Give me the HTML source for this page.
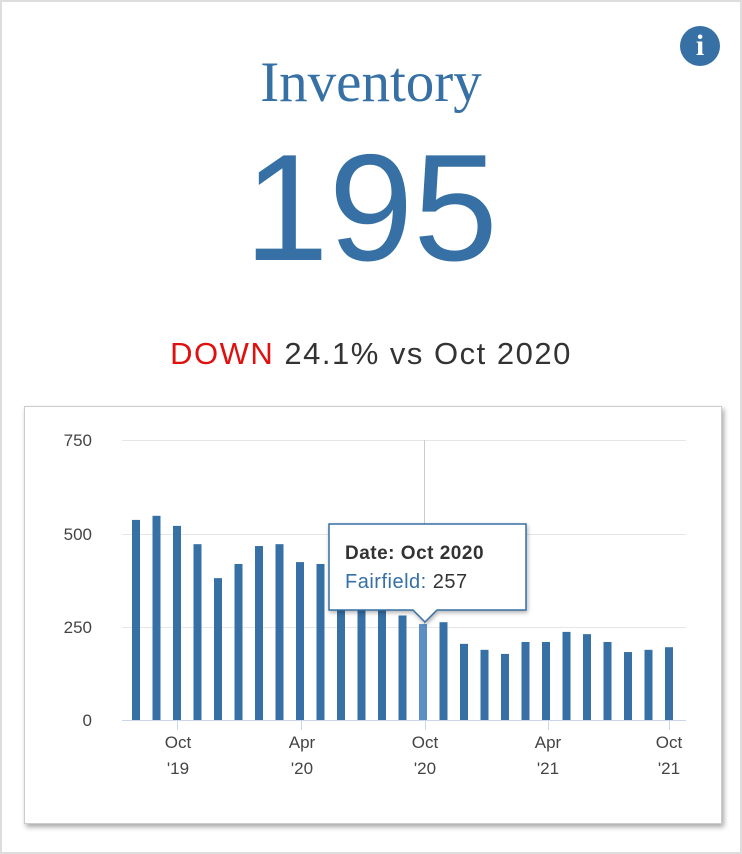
<!DOCTYPE html>
<html><head><style>
html,body{margin:0;padding:0;background:#fff;}
body{width:742px;height:854px;position:relative;overflow:hidden;font-family:"Liberation Sans",sans-serif;}
.frame{position:absolute;left:0;top:0;width:738px;height:850px;border:2px solid #ddd;}
.title{position:absolute;left:0;width:742px;top:50px;text-align:center;font-family:"Liberation Serif",serif;font-size:57px;color:#3670a4;}
.big{position:absolute;left:0;width:742px;top:128px;text-align:center;font-size:152px;font-weight:300;color:#3670a4;line-height:160px;}
.sub{position:absolute;left:0;width:742px;top:336px;text-align:center;font-size:31px;color:#333;letter-spacing:1.5px;}
.sub span{color:#e0100f;}
.card{position:absolute;left:24px;top:406px;width:696px;height:416px;border:1px solid #ccc;box-shadow:2px 3px 5px rgba(0,0,0,0.35);background:#fff;}
.info{position:absolute;left:680px;top:26px;width:40px;height:40px;border-radius:50%;background:#3670a4;color:#fff;font-family:"Liberation Serif",serif;font-weight:bold;font-size:30px;text-align:center;line-height:40px;}
</style></head><body>
<div class="frame"></div>
<div class="info">i</div>
<div class="title">Inventory</div>
<div class="big">195</div>
<div class="sub"><span>DOWN</span> 24.1% vs Oct 2020</div>
<div class="card"></div>
<svg style="position:absolute;left:0;top:0" width="742" height="854" font-family="Liberation Sans, sans-serif">
<g stroke="#e6e6e6" stroke-width="1">
<line x1="122" x2="686" y1="440.5" y2="440.5"/>
<line x1="122" x2="686" y1="534.5" y2="534.5"/>
<line x1="122" x2="686" y1="627.5" y2="627.5"/>
</g>
<line x1="424.5" x2="424.5" y1="440" y2="720" stroke="#ccc"/>
<line x1="122" x2="686" y1="720.5" y2="720.5" stroke="#ccd6eb"/>
<g fill="#444" font-size="17" text-anchor="end">
<text x="92" y="446">750</text><text x="92" y="540">500</text><text x="92" y="633">250</text><text x="92" y="726">0</text>
</g>
<g stroke="#ccd6eb"><line x1="177.5" x2="177.5" y1="720" y2="730"/><line x1="301.5" x2="301.5" y1="720" y2="730"/><line x1="425.5" x2="425.5" y1="720" y2="730"/><line x1="548.5" x2="548.5" y1="720" y2="730"/><line x1="669.5" x2="669.5" y1="720" y2="730"/></g>
<g fill="#444" font-size="17" text-anchor="middle">
<text x="178" y="748">Oct</text><text x="178" y="774">'19</text>
<text x="302" y="748">Apr</text><text x="302" y="774">'20</text>
<text x="425" y="748">Oct</text><text x="425" y="774">'20</text>
<text x="548" y="748">Apr</text><text x="548" y="774">'21</text>
<text x="669" y="748">Oct</text><text x="669" y="774">'21</text>
</g>
<g fill="#3670a4" id="bars"></g>
<g id="tt">
<path d="M329,524 H526 V610 H437 L425,622 L413,610 H329 Z" fill="#fff" stroke="#3670a4" stroke-width="1.5" style="filter:drop-shadow(1px 2px 2px rgba(0,0,0,0.3))"/>
<text x="345" y="559" font-size="19" font-weight="bold" fill="#333" letter-spacing="0.5">Date: Oct 2020</text>
<text x="345" y="588" font-size="20" fill="#3670a4" letter-spacing="0.5">Fairfield: <tspan fill="#333">257</tspan></text>
</g>
</svg>
<script>
var v=[536,547,520,471,380,418,466,471,423,418,390,320,320,280,257,262,204,188,177,209,209,236,230,209,182,188,195];
var g=document.getElementById('bars'),s='';
for(var i=0;i<v.length;i++){var x=136+i*20.5,h=v[i]*0.3733;
s+='<rect x="'+(x-4)+'" y="'+(720-h)+'" width="8" height="'+h+'"'+(i==14?' fill="#5b8fc4"':'')+'/>';}
g.innerHTML=s;
var t=document.getElementById('tt');t.parentNode.appendChild(t);
</script>
</body></html>
